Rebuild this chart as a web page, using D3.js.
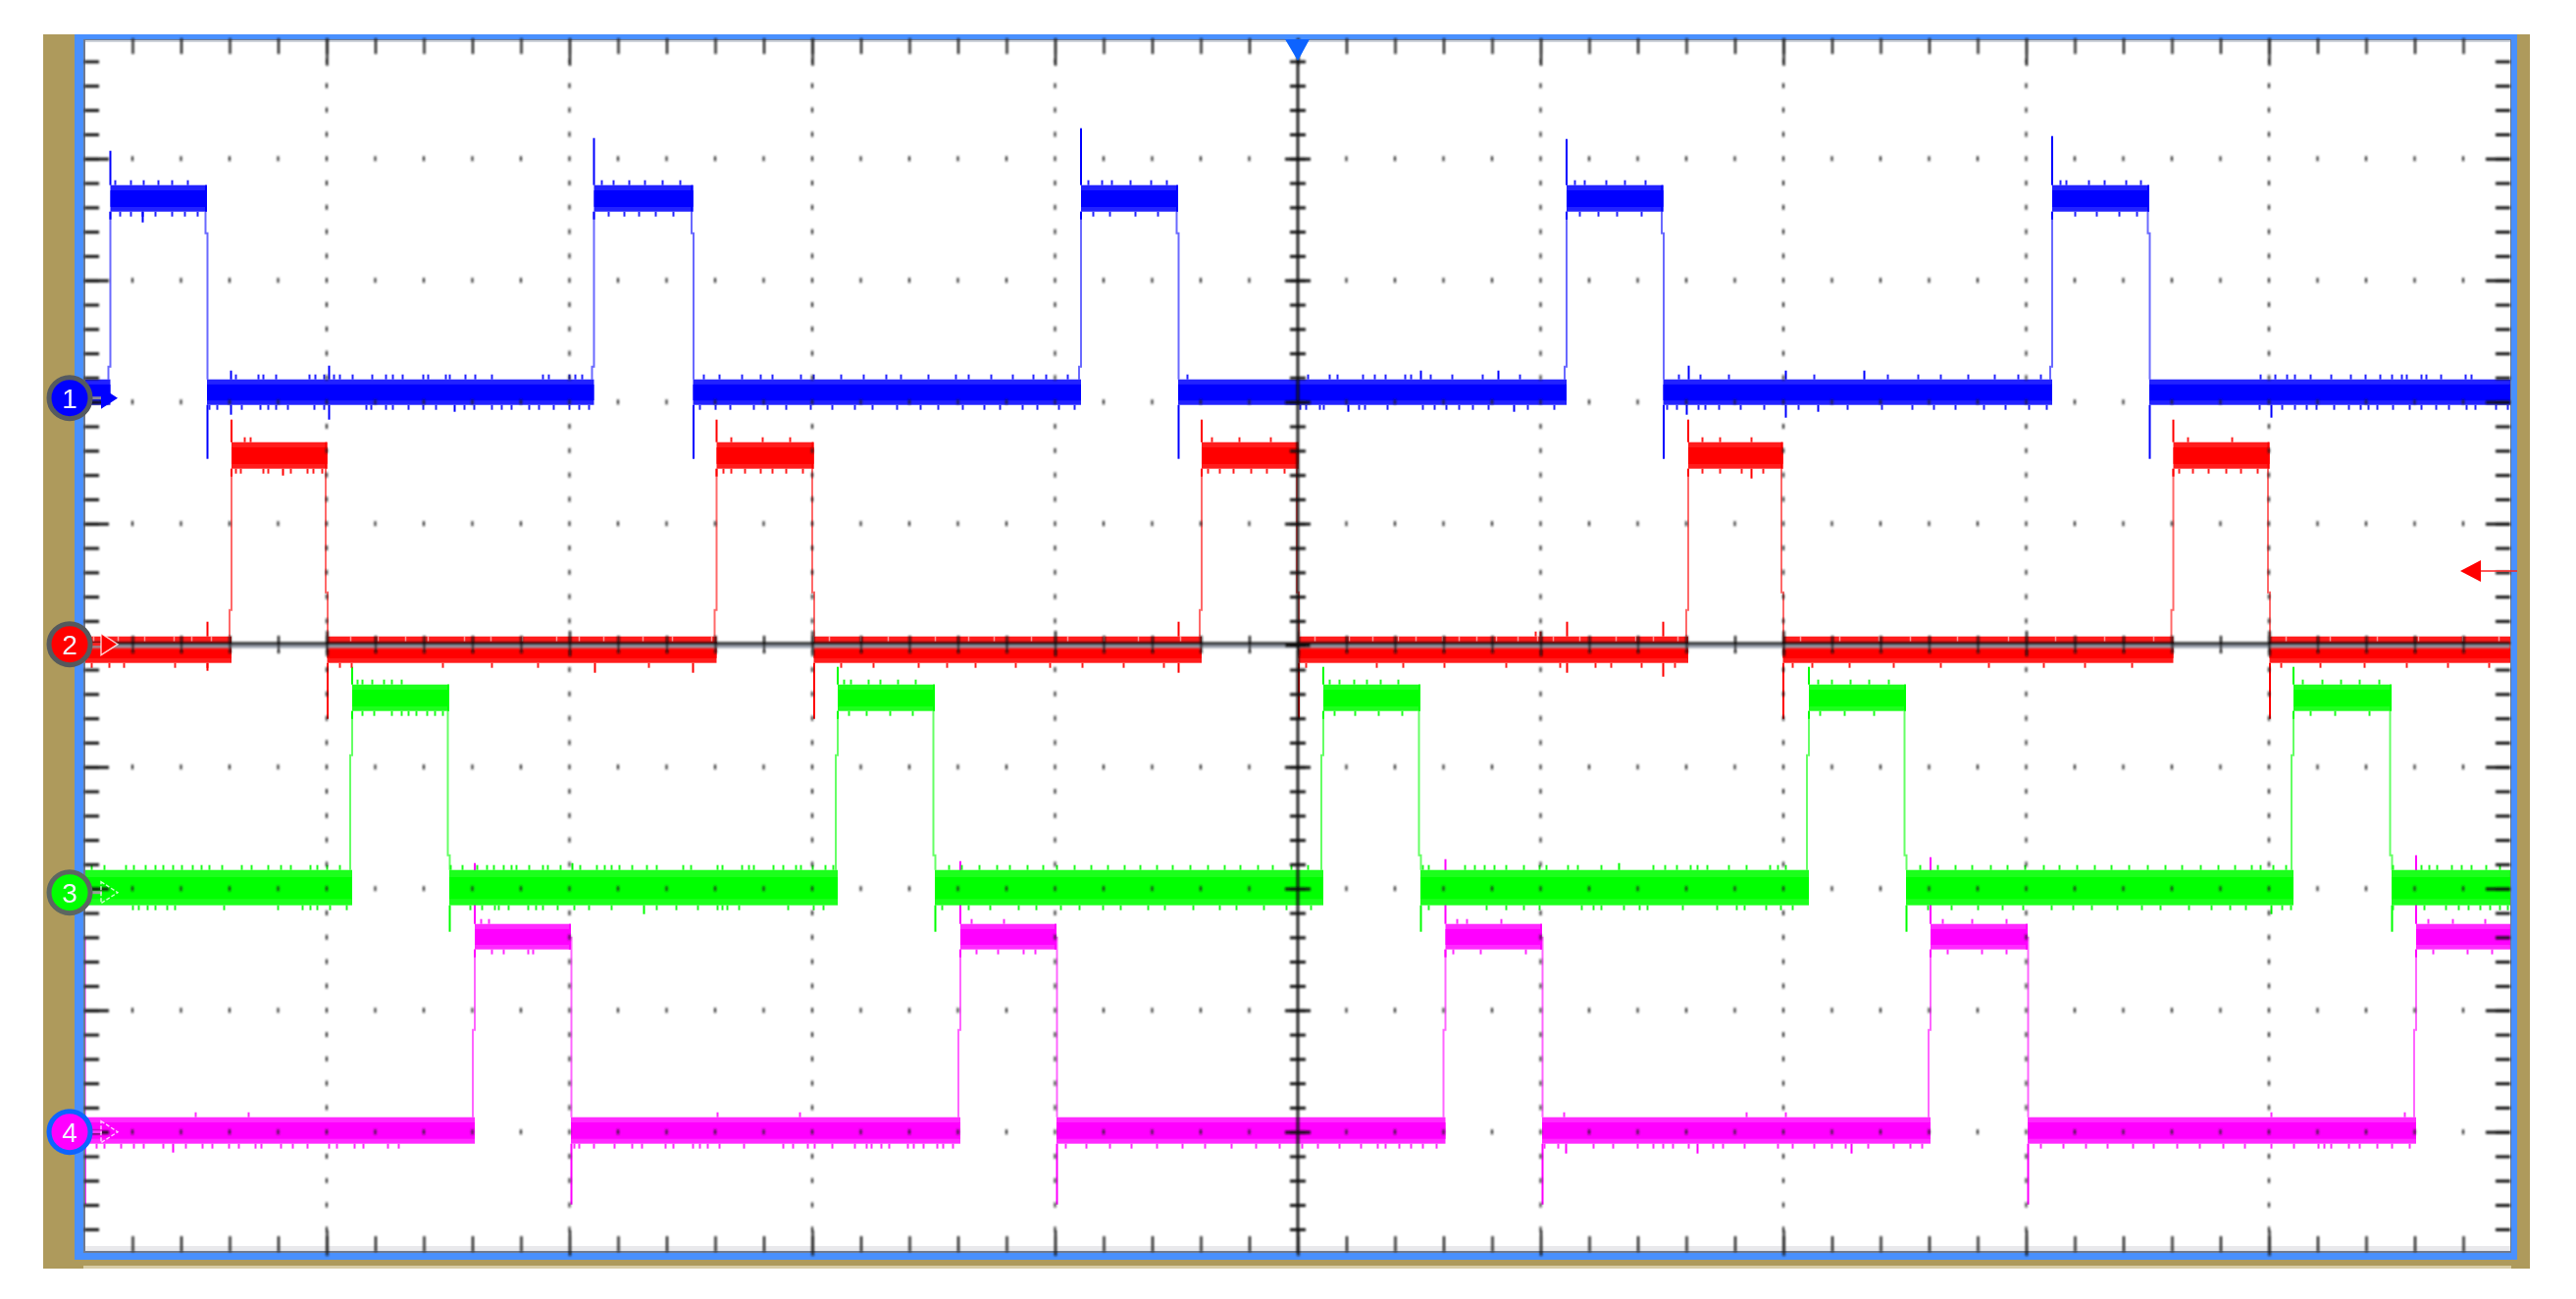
<!DOCTYPE html>
<html><head><meta charset="utf-8">
<script src="https://cdn.jsdelivr.net/npm/d3@7/dist/d3.min.js"></script>
<style>html,body{margin:0;padding:0;background:#fff}svg{display:block}</style></head>
<body><svg id="c" width="2626" height="1324"></svg>
<script>
// Screen units: time in samples (2475 across 10 divisions), level in counts (1240 across 10 divisions)
const channelNames = ["1","2","3","4"];
const blueRise = [27,520,1016.5,1511.5,2006.5];
const blueFall = [125.5,621,1115.5,1610,2105.5];
const blueOver = [1124,1137,1147,1136,1139];
const redRise  = [150.5,645,1139.5,1635.5,2130];
const redFall  = [248,744,1238,1732,2228];
const redOver  = [850,850,850,850,850];
const greenRise = [273.5,768.5,1263.5,1758.5,2252.5];
const greenFall = [372.5,867.5,1362.5,1857.5,2352.5];
const greenOver = [598,598,598,598,598];
const magentaRise = [398.5,893.5,1388,1882.5,2377.5];
const magentaFall = [0.8,496.5,991.5,1486.5,1981.5];
const magentaOver = [398,400,402,404,406];
// low bottom, low top, high bottom, high top, undershoot, rise kink, fall kink
const blueLevels    = [865,891,1062,1089,810,904,1040];
const redLevels     = [602,629,800,827,545,656,674];
const greenLevels   = [355,391,553,580,328,508,406];
const magentaLevels = [112,139,310,336,50,228,322];

const blueUp = [32,48,61,76,90,106,155,178,183,196,230,236,245,255,261,274,294,308,315,325,346,351,369,373,389,399,416,468,474,495,501,508,528,540,556,572,590,608,632,648,671,690,702,731,744,772,795,818,833,861,889,902,925,947,968,981,1003,1024,1038,1048,1067,1088,1104,1125,1248,1270,1278,1304,1316,1327,1347,1353,1373,1395,1426,1464,1520,1530,1552,1571,1592,1626,1648,1677,1764,1839,1870,1893,1921,1948,1972,1995,2015,2021,2044,2060,2082,2097,2219,2234,2246,2254,2270,2291,2311,2326,2341,2353,2363,2368,2383,2388,2403,2428,2434];
const blueDown = [37,48,60,73,90,103,116,128,136,161,180,188,196,208,235,245,288,293,308,315,331,346,359,388,398,416,426,436,454,464,479,495,505,515,535,551,566,583,601,628,644,659,683,697,716,741,763,786,804,829,853,871,896,918,934,957,972,994,1010,1029,1046,1072,1095,1240,1246,1260,1264,1300,1306,1329,1365,1377,1389,1402,1416,1432,1472,1499,1525,1544,1563,1588,1614,1624,1646,1653,1667,1689,1713,1748,1798,1833,1864,1886,1908,1937,1959,1983,2001,2030,2052,2075,2093,2218,2241,2254,2266,2276,2294,2309,2321,2329,2338,2354,2371,2383,2398,2411,2429,2438,2459,2471];
const blueTall = [[60,1051],[150,900],[150,855],[250,905],[250,850],[378,858],[1363,900],[1289,858],[1442,900],[1458,858],[1636,905],[1634,855],[1735,900],[1735,852],[1768,858],[1815,900],[2230,852]];

const redUp = [164,170,1480,1485,1650,1668,1700,660,692,720,1150,1178,1210,2145,2190];
const redDown = [8,26,41,93,126,155,160,183,188,211,228,234,243,261,273,366,416,463,576,652,660,674,690,702,716,733,772,805,851,880,909,950,985,1018,1060,1101,1146,1158,1172,1190,1206,1224,1246,1318,1345,1387,1450,1505,1541,1557,1588,1622,1650,1668,1690,1712,1742,1762,1800,1845,1893,1942,1998,2040,2088,2136,2150,2166,2184,2199,2216,2240,2280,2325,2368,2410,2452];
const redTall = [[126,644],[126,594],[203,793],[521,592],[621,592],[1116,644],[1116,592],[1512,644],[1512,592],[1610,644],[1610,588],[1700,790]];
const redNotches = [4,10,35,62,92,110,130,272,300,328,351,388,415,447,482,505,530,570,600,640,760,792,820,868,902,928,966,1003,1040,1075,1118,1255,1290,1314,1340,1358,1385,1402,1420,1440,1462,1482,1498,1525,1562,1582,1600,1625,1750,1790,1830,1862,1910,1962,2010,2060,2110,2245,2290,2338,2380,2425,2462];

const greenUp = [8,21,43,51,63,73,81,91,100,111,120,128,141,161,171,188,201,211,231,238,248,261,279,284,294,306,314,324,374,386,401,411,418,428,436,441,454,468,473,486,506,523,531,538,546,559,574,584,611,619,646,651,671,678,683,703,713,726,731,743,756,764,775,782,800,812,830,848,882,895,913,931,944,962,978,992,1010,1027,1044,1061,1077,1094,1110,1128,1146,1163,1179,1197,1212,1231,1248,1270,1280,1295,1308,1322,1340,1365,1371,1408,1418,1428,1438,1450,1468,1484,1491,1513,1523,1547,1600,1612,1624,1638,1645,1655,1677,1695,1719,1727,1735,1768,1782,1801,1820,1840,1872,1890,1908,1925,1944,1961,1979,1998,2014,2032,2050,2067,2085,2104,2122,2139,2158,2176,2193,2210,2219,2232,2245,2262,2282,2301,2320,2340,2354,2383,2391,2399,2414,2424,2434,2449,2463];
const greenDown = [50,56,65,73,85,93,143,198,223,231,238,251,268,284,296,314,324,331,339,350,358,366,394,406,419,423,433,453,461,468,483,500,515,538,584,604,626,646,651,656,668,718,744,754,780,798,822,845,875,902,924,953,971,996,1015,1039,1057,1085,1102,1131,1158,1175,1203,1226,1251,1275,1296,1320,1344,1371,1430,1450,1468,1484,1527,1539,1547,1570,1586,1594,1630,1665,1685,1693,1715,1730,1742,1770,1795,1825,1880,1904,1931,1956,1977,2006,2028,2047,2073,2098,2117,2146,2169,2188,2204,2241,2250,2270,2295,2330,2354,2386,2408,2421,2431,2443,2453,2463,2471];
const greenTall = [[498,398],[1565,398],[571,346],[2230,346]];

const magentaUp = [405,413,1509,1695,1735,2230,2366,114,168,646,730,905,938,1400,1410,1445,1895,1925,1960,2390,2415,2448];
const magentaDown = [13,21,38,51,61,81,104,121,131,148,158,175,181,201,213,228,250,258,276,285,310,321,416,428,453,458,500,505,520,541,559,569,593,601,621,628,636,648,673,713,723,738,745,763,786,798,803,813,821,840,846,856,870,876,886,910,932,958,970,1001,1022,1046,1068,1094,1120,1143,1170,1195,1219,1242,1258,1280,1302,1319,1327,1341,1353,1365,1379,1396,1424,1470,1489,1503,1539,1559,1584,1600,1610,1620,1636,1661,1671,1693,1727,1742,1764,1782,1796,1819,1845,1862,1874,1900,1935,1960,1995,2018,2041,2063,2089,2110,2134,2157,2181,2203,2230,2253,2278,2284,2291,2309,2320,2338,2353,2371,2395,2430,2455];
const magentaTall = [[91,103],[1511,102],[1645,102],[1802,102]];

const timeMinor = d3.range(1,50).map(i=>i*49.5);
const timeMajor = d3.range(1,10).map(i=>i*247.5);
const levelMinor = d3.range(1,50).map(i=>i*24.8);
const levelMajor = d3.range(1,10).map(i=>i*124);
const centerTime = 1237.5, centerLevel = 620;

const x = d3.scaleLinear().domain([0,2475]).range([85.5,2560.5]);
const y = d3.scaleLinear().domain([0,1240]).range([1277.7,37.7]);
const L=87,R=2559,T=40,B=1277;

const svg = d3.select("#c");
const defs = svg.append("defs");
const blurF=(id,s)=>defs.append("filter").attr("id",id).attr("filterUnits","userSpaceOnUse")
  .attr("x",0).attr("y",0).attr("width",2626).attr("height",1324)
  .append("feGaussianBlur").attr("stdDeviation",s);
blurF("soft",0.85); blurF("softT",0.4);
defs.append("clipPath").attr("id","plot").append("rect").attr("x",L).attr("y",T).attr("width",R-L).attr("height",B-T);

// frame
const frame = svg.append("g").attr("filter","url(#softT)");
const rect=(g,a,b,c,d,f)=>g.append("rect").attr("x",a).attr("y",b).attr("width",c-a).attr("height",d-b).attr("fill",f);
const tan="#ae9a5c", frameBlue="#4a90ff";
rect(frame,44,35,2579,1293,tan);
rect(frame,85,1290,2560,1293,"#d8cca6");
rect(frame,76,35,2566,1284,frameBlue);
rect(frame,85,40,2560,1277,"#6f7a90");
rect(frame,87,41,2559,1275,"#ffffff");
rect(frame,87,41,2559,43,"#cdd2da");
rect(frame,87,1270,2559,1275,"#e9e9ec");

// traces
const traces = svg.append("g").attr("clip-path","url(#plot)").append("g").attr("filter","url(#softT)");
const line = d3.line().x(d=>x(d[0])).y(d=>y(d[1]));
function spans(rise,fall){
  const ev=[...rise.map(t=>[t,1]),...fall.map(t=>[t,0])].sort((a,b)=>a[0]-b[0]);
  const out=[]; let s=0, st=ev[0][1]?0:1;
  ev.forEach(e=>{out.push([s,e[0],st]); s=e[0]; st=e[1];});
  out.push([s,2475,st]); return out;
}
function drawChannel(rise,fall,over,lv,up,down,tall,cCore,cOuter,cEdge,fr){
  const g=traces.append("g");
  const [lb,lt,hb,ht,un,kr,kf]=lv;
  const sp=spans(rise,fall);
  const inHigh=t=>sp.some(s=>t>=s[0]&&t<s[1]&&s[2]===1);
  const tick=(t,a,b,col)=>g.append("rect").attr("x",x(t)-1).attr("width",2)
     .attr("y",y(Math.max(a,b))).attr("height",Math.abs(y(a)-y(b))).attr("fill",col);
  rise.forEach(t=>{
    g.append("path").attr("fill","none").attr("stroke",cEdge).attr("stroke-width",2)
     .attr("d",line([[t-2,lt],[t-2,kr],[t,kr],[t,hb]]));
  });
  fall.forEach(t=>{
    g.append("path").attr("fill","none").attr("stroke",cEdge).attr("stroke-width",2)
     .attr("d",line([[t-1.5,hb],[t-1.5,kf],[t+0.5,kf],[t+0.5,lt]]));
  });
  sp.forEach(s=>{
    const bot=s[2]?hb:lb, top=s[2]?ht:lt, h=top-bot;
    g.append("rect").attr("x",x(s[0])).attr("width",x(s[1])-x(s[0])).attr("y",y(top)).attr("height",y(bot)-y(top)).attr("fill",cOuter);
    g.append("rect").attr("x",x(s[0])).attr("width",x(s[1])-x(s[0])).attr("y",y(top-h*0.2)).attr("height",y(bot+h*0.18)-y(top-h*0.2)).attr("fill",cCore);
  });
  rise.forEach((t,i)=>{tick(t,ht,over[i],cCore);tick(t,hb,hb-8,cCore);});
  fall.forEach(t=>{tick(t+0.5,lb,un,cCore);tick(t-1,ht,hb,cCore);});
  up.forEach(t=>{const h=inHigh(t);tick(t,h?ht:lt,(h?ht:lt)+fr,cOuter);});
  down.forEach(t=>{const h=inHigh(t);tick(t,h?hb:lb,(h?hb:lb)-fr,cOuter);});
  tall.forEach(d=>{const h=inHigh(d[0]);const ref=(d[1]>(h?ht:lt))?(h?ht:lt):(h?hb:lb);tick(d[0],ref,d[1],cCore);});
}
drawChannel(magentaRise,magentaFall,magentaOver,magentaLevels,magentaUp,magentaDown,magentaTall,"#ff00ff","#ff2cff","#ff66ff",5);
drawChannel(greenRise,greenFall,greenOver,greenLevels,greenUp,greenDown,greenTall,"#00ff00","#1fff1f","#66ff66",5);
drawChannel(redRise,redFall,redOver,redLevels,redUp,redDown,redTall,"#ff0000","#ff1f1f","#ff6b6b",5);
drawChannel(blueRise,blueFall,blueOver,blueLevels,blueUp,blueDown,blueTall,"#0000ff","#2020ff","#6a6aff",5);
traces.append("g").selectAll("rect").data(redNotches).join("rect")
  .attr("x",d=>x(d)-0.75).attr("width",1.5).attr("y",y(629)).attr("height",y(624)-y(629)).attr("fill","#fff").attr("fill-opacity",0.55);

// graticule
const grid = svg.append("g").attr("filter","url(#soft)");
const dots = grid.append("g").attr("fill","#222");
levelMajor.filter(v=>v!==centerLevel).forEach(v=>{
  dots.append("g").selectAll("rect").data(timeMinor.filter(t=>t!==centerTime)).join("rect")
    .attr("x",t=>x(t)-1).attr("y",y(v)-2.5).attr("width",2).attr("height",5);
});
timeMajor.filter(t=>t!==centerTime).forEach(t=>{
  dots.append("g").selectAll("rect").data(levelMinor.filter(v=>v%124!==0&&v!==centerLevel)).join("rect")
    .attr("x",x(t)-1).attr("y",v=>y(v)-2.5).attr("width",2).attr("height",5);
});
function ax(fn,scale,vals,size,tx,ty,w){
  const g=grid.append("g").attr("transform",`translate(${tx},${ty})`)
    .call(fn(scale).tickValues(vals).tickSize(size).tickSizeOuter(0).tickFormat(""));
  g.select(".domain").remove();
  g.selectAll("line").attr("stroke","#111").attr("stroke-width",w);
  g.selectAll("text").remove();
}
ax(d3.axisBottom,x,timeMinor,16,0,39,2.2);
ax(d3.axisBottom,x,timeMajor,28,0,39,2.2);
ax(d3.axisTop,x,timeMinor,16,0,1276,2.2);
ax(d3.axisTop,x,timeMajor,26,0,1280,2.2);
ax(d3.axisRight,y,levelMinor,15,86,0,3);
ax(d3.axisRight,y,levelMajor,25,86,0,3);
ax(d3.axisLeft,y,levelMinor,15,2559,0,3);
ax(d3.axisLeft,y,levelMajor,25,2559,0,3);
const cross=grid.append("g");
cross.append("rect").attr("x",L).attr("width",R-L).attr("y",657).attr("height",3.5).attr("fill","#9aa1ad");
cross.append("rect").attr("x",L).attr("width",R-L).attr("y",654.5).attr("height",2.8).attr("fill","#111");
ax(d3.axisBottom,x,timeMinor,18,0,648,2.2);
ax(d3.axisBottom,x,timeMajor,26,0,643,2.2);
ax(d3.axisRight,y,levelMinor,16,x(centerTime)-8,0,3);
ax(d3.axisRight,y,levelMajor,26,x(centerTime)-13,0,3);
cross.append("rect").attr("x",x(centerTime)-1.3).attr("width",2.6).attr("y",T).attr("height",B-T).attr("fill","#111");

// trigger markers
const mk = svg.append("g").attr("filter","url(#softT)");
mk.append("path").attr("d",`M${x(centerTime)-13},40L${x(centerTime)+12},40L${x(centerTime)},62Z`).attr("fill","#0a64ff");
mk.append("line").attr("x1",2529).attr("x2",2566).attr("y1",582).attr("y2",582).attr("stroke","#ff2020").attr("stroke-width",1.6);
mk.append("path").attr("d","M2508,582L2529,571L2529,593Z").attr("fill","#ff0000");

// channel badges
const badgeLevels=[872,621,368,124];
const badgeFill=["#0000ff","#ff0000","#00ff00","#ff00ff"];
const badgeRing=["#555a60","#55595c","#5c6660","#0a64ff"];
const stem=["#8a8a9a","#ff2020","#9aa09a","#ff30ff"];
const bg=svg.append("g").attr("filter","url(#softT)");
channelNames.forEach((n,i)=>{
  const cy=y(badgeLevels[i]);
  bg.append("line").attr("x1",88).attr("x2",104).attr("y1",cy).attr("y2",cy).attr("stroke",stem[i]).attr("stroke-width",3);
  bg.append("path").attr("d",`M103,${cy-11}L120,${cy}L103,${cy+11}Z`)
    .attr("fill",i<2?badgeFill[i]:"none").attr("stroke",i===0?"none":"#ffffff").attr("stroke-opacity",0.8).attr("stroke-width",1.4).attr("stroke-dasharray",i<2?null:"4 2");
  bg.append("circle").attr("cx",71).attr("cy",cy).attr("r",21).attr("fill",badgeFill[i]).attr("stroke",badgeRing[i]).attr("stroke-width",5);
  bg.append("text").attr("x",71).attr("y",cy+10).attr("text-anchor","middle")
    .attr("font-family","Liberation Sans, sans-serif").attr("font-size",28).attr("fill","#f4f4ff").text(n);
});
</script></body></html>
